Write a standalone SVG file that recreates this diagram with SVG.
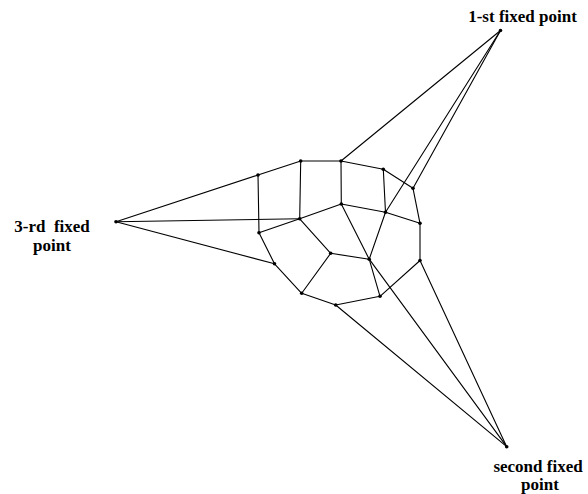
<svg xmlns="http://www.w3.org/2000/svg" width="588" height="494" viewBox="0 0 588 494">
<style>
.e{stroke:#000;stroke-width:1.1;fill:none;stroke-linecap:round}
.n{fill:#000}
.t{font-family:"Liberation Serif","Times New Roman",serif;font-weight:bold;font-size:17px;fill:#000;text-anchor:middle;white-space:pre}
</style>
<rect width="588" height="494" fill="#fff"/>
<g id="connectors">
<line class="e" x1="258" y1="175" x2="300.7" y2="161"/>
<line class="e" x1="300.7" y1="161" x2="341" y2="161"/>
<line class="e" x1="341" y1="161" x2="383.3" y2="169.3"/>
<line class="e" x1="383.3" y1="169.3" x2="413" y2="188.3"/>
<line class="e" x1="413" y1="188.3" x2="420" y2="223.3"/>
<line class="e" x1="420" y1="223.3" x2="420" y2="260.5"/>
<line class="e" x1="420" y1="260.5" x2="380" y2="296.3"/>
<line class="e" x1="380" y1="296.3" x2="335.7" y2="305"/>
<line class="e" x1="335.7" y1="305" x2="301.7" y2="293.3"/>
<line class="e" x1="301.7" y1="293.3" x2="274.5" y2="263.8"/>
<line class="e" x1="274.5" y1="263.8" x2="259" y2="232.7"/>
<line class="e" x1="259" y1="232.7" x2="258" y2="175"/>
<line class="e" x1="300.7" y1="161" x2="299.7" y2="218.8"/>
<line class="e" x1="341" y1="161" x2="341.3" y2="204"/>
<line class="e" x1="383.3" y1="169.3" x2="385.5" y2="212.3"/>
<line class="e" x1="259" y1="232.7" x2="299.7" y2="218.8"/>
<line class="e" x1="299.7" y1="218.8" x2="341.3" y2="204"/>
<line class="e" x1="341.3" y1="204" x2="385.5" y2="212.3"/>
<line class="e" x1="385.5" y1="212.3" x2="420" y2="223.3"/>
<line class="e" x1="299.7" y1="218.8" x2="330.7" y2="253.3"/>
<line class="e" x1="330.7" y1="253.3" x2="369.2" y2="259.2"/>
<line class="e" x1="330.7" y1="253.3" x2="301.7" y2="293.3"/>
<line class="e" x1="341.3" y1="204" x2="369.2" y2="259.2"/>
<line class="e" x1="385.5" y1="212.3" x2="369.2" y2="259.2"/>
<line class="e" x1="369.2" y1="259.2" x2="380" y2="296.3"/>
<line class="e" x1="500.5" y1="30.5" x2="341" y2="161"/>
<line class="e" x1="500.5" y1="30.5" x2="413" y2="188.3"/>
<line class="e" x1="500.5" y1="30.5" x2="385.5" y2="212.3"/>
<line class="e" x1="506.7" y1="446.7" x2="335.7" y2="305"/>
<line class="e" x1="506.7" y1="446.7" x2="369.2" y2="259.2"/>
<line class="e" x1="506.7" y1="446.7" x2="420" y2="260.5"/>
<line class="e" x1="116" y1="221.7" x2="258" y2="175"/>
<line class="e" x1="116" y1="221.7" x2="299.7" y2="218.8"/>
<line class="e" x1="116" y1="221.7" x2="274.5" y2="263.8"/>
</g>
<g id="nA"><circle class="n" cx="300.7" cy="161" r="1.8"/></g>
<g id="nB"><circle class="n" cx="341" cy="161" r="1.8"/></g>
<g id="nC"><circle class="n" cx="383.3" cy="169.3" r="1.8"/></g>
<g id="nD"><circle class="n" cx="413" cy="188.3" r="1.8"/></g>
<g id="nE"><circle class="n" cx="258" cy="175" r="1.8"/></g>
<g id="nF"><circle class="n" cx="299.7" cy="218.8" r="1.8"/></g>
<g id="nG"><circle class="n" cx="341.3" cy="204" r="1.8"/></g>
<g id="nH"><circle class="n" cx="385.5" cy="212.3" r="1.8"/></g>
<g id="nI"><circle class="n" cx="420" cy="223.3" r="1.8"/></g>
<g id="nJ"><circle class="n" cx="259" cy="232.7" r="1.8"/></g>
<g id="nK"><circle class="n" cx="330.7" cy="253.3" r="1.8"/></g>
<g id="nL"><circle class="n" cx="369.2" cy="259.2" r="1.8"/></g>
<g id="nM"><circle class="n" cx="420" cy="260.5" r="1.8"/></g>
<g id="nN"><circle class="n" cx="274.5" cy="263.8" r="1.8"/></g>
<g id="nO"><circle class="n" cx="301.7" cy="293.3" r="1.8"/></g>
<g id="nP"><circle class="n" cx="380" cy="296.3" r="1.8"/></g>
<g id="nQ"><circle class="n" cx="335.7" cy="305" r="1.8"/></g>
<g id="fixed1"><circle class="n" cx="500.5" cy="30.5" r="1.8"/><text class="t" x="522.5" y="22">1-st fixed point</text></g>
<g id="fixed2"><circle class="n" cx="506.7" cy="446.7" r="1.8"/><text class="t" x="538" y="472">second fixed</text><text class="t" x="540" y="490">point</text></g>
<g id="fixed3"><circle class="n" cx="116" cy="221.7" r="1.8"/><text class="t" x="52" y="232">3-rd  fixed</text><text class="t" x="52" y="251">point</text></g>
</svg>
